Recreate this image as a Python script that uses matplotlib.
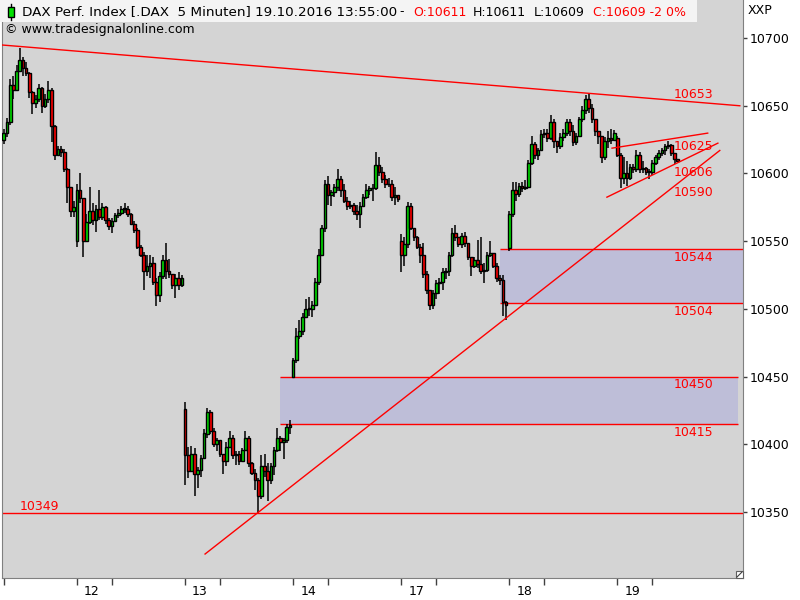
import matplotlib
matplotlib.use('Agg')
import matplotlib.pyplot as plt
from matplotlib.patches import Rectangle
from matplotlib.lines import Line2D
import numpy as np

# DAX 15-minute candles (open of a candle = previous close,
# except the first candle of each session)
day_names = ['11', '12', '13', '14', '17', '18', '19']
day_start = [-11, 23, 57, 91, 125, 159, 193]   # candle index of session start
day_open = [10625, 10550, 10426, 10450, 10550, 10545, 10626]

close_11 = [10630, 10638, 10665, 10662, 10676, 10684, 10678, 10674, 10660, 10652, 10655, 10663,
            10650, 10655, 10662, 10635, 10614, 10618, 10616, 10603, 10590, 10572, 10575]
high_11 = [10633, 10641, 10670, 10672, 10680, 10693, 10686, 10682, 10675, 10661, 10658, 10666,
           10664, 10659, 10668, 10663, 10636, 10620, 10620, 10618, 10604, 10590, 10580]
low_11 = [10622, 10627, 10636, 10655, 10662, 10676, 10672, 10672, 10656, 10644, 10648, 10653,
          10645, 10648, 10652, 10623, 10610, 10613, 10612, 10601, 10578, 10568, 10568]

close_12 = [10588, 10582, 10550, 10564, 10572, 10566, 10574, 10568, 10575, 10566, 10561, 10565,
            10569, 10571, 10574, 10574, 10570, 10563, 10558, 10546, 10540, 10528, 10532, 10534,
            10520, 10510, 10524, 10536, 10528, 10526, 10518, 10523, 10518, 10523]
high_12 = [10592, 10600, 10582, 10570, 10590, 10578, 10577, 10588, 10578, 10576, 10567, 10567,
           10571, 10574, 10576, 10578, 10576, 10571, 10565, 10560, 10547, 10542, 10540, 10540,
           10538, 10523, 10527, 10540, 10549, 10537, 10526, 10526, 10527, 10525]
low_12 = [10546, 10578, 10538, 10555, 10563, 10562, 10557, 10566, 10566, 10563, 10558, 10556,
          10565, 10567, 10569, 10571, 10568, 10562, 10556, 10544, 10538, 10514, 10524, 10523,
          10518, 10502, 10505, 10522, 10522, 10523, 10515, 10508, 10514, 10516]

close_13 = [10392, 10380, 10393, 10378, 10381, 10390, 10408, 10424, 10410, 10400, 10403, 10393,
            10388, 10398, 10405, 10392, 10393, 10388, 10396, 10405, 10386, 10379, 10374, 10362,
            10384, 10380, 10374, 10384, 10396, 10405, 10402, 10403, 10413, 10414]
high_13 = [10431, 10398, 10399, 10397, 10383, 10392, 10411, 10427, 10425, 10412, 10405, 10400,
           10393, 10402, 10410, 10407, 10395, 10395, 10397, 10410, 10406, 10387, 10382, 10375,
           10392, 10393, 10386, 10386, 10398, 10412, 10406, 10405, 10415, 10418]
low_13 = [10370, 10375, 10380, 10362, 10368, 10376, 10389, 10405, 10408, 10398, 10395, 10391,
          10378, 10384, 10397, 10389, 10385, 10385, 10387, 10395, 10383, 10377, 10366, 10349,
          10360, 10376, 10358, 10371, 10377, 10394, 10395, 10389, 10401, 10408]

close_14 = [10462, 10480, 10484, 10494, 10500, 10500, 10503, 10520, 10540, 10560, 10592, 10584,
            10586, 10590, 10596, 10588, 10580, 10576, 10577, 10572, 10570, 10576, 10583, 10588,
            10589, 10589, 10606, 10601, 10596, 10592, 10592, 10583, 10584, 10581]
high_14 = [10464, 10486, 10492, 10497, 10507, 10509, 10506, 10523, 10544, 10562, 10595, 10598,
           10588, 10592, 10603, 10598, 10592, 10583, 10580, 10578, 10577, 10579, 10585, 10592,
           10591, 10592, 10616, 10612, 10605, 10599, 10597, 10595, 10590, 10584]
low_14 = [10449, 10460, 10478, 10481, 10494, 10495, 10494, 10502, 10518, 10540, 10557, 10577,
          10576, 10583, 10587, 10583, 10578, 10573, 10574, 10569, 10566, 10560, 10575, 10581,
          10584, 10580, 10588, 10598, 10593, 10589, 10590, 10580, 10577, 10579]

close_17 = [10540, 10548, 10576, 10560, 10553, 10546, 10540, 10526, 10514, 10503, 10512, 10519,
            10520, 10527, 10528, 10540, 10556, 10553, 10548, 10554, 10549, 10538, 10532, 10536,
            10533, 10528, 10529, 10540, 10541, 10532, 10523, 10521, 10505, 10503]
high_17 = [10555, 10553, 10579, 10578, 10560, 10554, 10548, 10549, 10528, 10514, 10514, 10521,
           10523, 10530, 10530, 10542, 10560, 10562, 10553, 10556, 10557, 10549, 10538, 10538,
           10551, 10553, 10534, 10542, 10550, 10541, 10534, 10525, 10525, 10506]
low_17 = [10527, 10532, 10545, 10558, 10550, 10544, 10534, 10523, 10511, 10499, 10500, 10507,
          10511, 10514, 10522, 10524, 10538, 10550, 10546, 10545, 10546, 10536, 10524, 10530,
          10530, 10526, 10519, 10527, 10538, 10530, 10520, 10518, 10495, 10492]

close_18 = [10570, 10588, 10585, 10591, 10589, 10590, 10608, 10622, 10614, 10617, 10629, 10630,
            10626, 10638, 10624, 10620, 10627, 10630, 10638, 10631, 10623, 10628, 10640, 10647,
            10655, 10648, 10640, 10631, 10628, 10612, 10624, 10626, 10625, 10630]
high_18 = [10572, 10594, 10594, 10593, 10594, 10595, 10610, 10628, 10623, 10619, 10632, 10633,
           10633, 10643, 10640, 10624, 10630, 10633, 10640, 10640, 10636, 10630, 10642, 10650,
           10658, 10659, 10651, 10639, 10630, 10628, 10627, 10631, 10633, 10632]
low_18 = [10543, 10568, 10580, 10583, 10586, 10588, 10589, 10606, 10611, 10610, 10617, 10626,
          10623, 10625, 10619, 10615, 10618, 10624, 10628, 10628, 10620, 10621, 10627, 10638,
          10644, 10645, 10637, 10628, 10622, 10608, 10610, 10619, 10622, 10624]

close_19 = [10614, 10597, 10600, 10597, 10605, 10603, 10614, 10603, 10604, 10601, 10601, 10608,
            10612, 10615, 10617, 10620, 10621, 10615, 10611, 10609]
high_19 = [10628, 10615, 10612, 10609, 10607, 10607, 10617, 10616, 10609, 10605, 10603, 10610,
           10614, 10617, 10619, 10622, 10624, 10622, 10615, 10611]
low_19 = [10612, 10589, 10592, 10591, 10595, 10600, 10601, 10600, 10600, 10599, 10596, 10599,
          10606, 10610, 10613, 10614, 10618, 10613, 10607, 10609]

closes = [close_11, close_12, close_13, close_14, close_17, close_18, close_19]
highs = [high_11, high_12, high_13, high_14, high_17, high_18, high_19]
lows = [low_11, low_12, low_13, low_14, low_17, low_18, low_19]

# drawn objects: trend lines (index, price) pairs, zones, levels
trend_lines = [((-1.2, 10695), (231.5, 10650)),
               ((63.3, 10319), (225.2, 10617)),
               ((189.7, 10582.5), (224.6, 10622.4)),
               ((191.3, 10618.7), (221.4, 10629.8))]
zones = [(156.0, 232.5, 10504, 10544), (86.9, 230.9, 10415, 10450)]
support = 10349
level_labels = [('10653', 210.8, 10658.5), ('10625', 210.8, 10620), ('10606', 210.8, 10601),
                ('10590', 210.8, 10586), ('10544', 210.8, 10538), ('10504', 210.8, 10498),
                ('10450', 210.8, 10444), ('10415', 210.8, 10409), ('10349', 5.1, 10354)]

GREEN = '#00E000'
RED = '#FF0000'
BG = '#D4D4D4'

o, c, h, l = [], [], [], []
for d in range(len(closes)):
    o += [day_open[d]] + closes[d][:-1]
    c += closes[d]
    h += highs[d]
    l += lows[d]
o, c, h, l = map(np.array, (o, c, h, l))
x = np.arange(len(c))

fig = plt.figure(figsize=(8, 6), dpi=100)
ax = fig.add_axes([2 / 800, 22 / 600, 741 / 800, 578 / 600])
ax.set_facecolor(BG)
ax.set_xlim(-0.57, 232.5)
ax.set_ylim(10301.3, 10728.1)

# zones
for x0, x1, y0, y1 in zones:
    ax.add_patch(Rectangle((x0, y0), x1 - x0, y1 - y0, facecolor='#BEBED8',
                           edgecolor='none', zorder=1))
    ax.hlines([y0, y1], x0, x1, color=RED, lw=1, zorder=2)
ax.axhline(support, color=RED, lw=1, zorder=2)

# candles
top = np.maximum(o, c)
bot = np.minimum(o, c)
ax.vlines(x, np.minimum(l, bot), np.maximum(h, top), color='black', lw=1.1, zorder=3)
cols = np.where(c >= o, GREEN, RED)
ax.bar(x, np.maximum(top - bot, 0.6), bottom=bot, width=0.85, color=cols,
       edgecolor='black', linewidth=1.0, zorder=4)

for (xa, ya), (xb, yb) in trend_lines:
    ax.plot([xa, xb], [ya, yb], color=RED, lw=1, zorder=5)

for txt, tx, ty in level_labels:
    ax.text(tx, ty, txt, color=RED, fontsize=9, ha='left', va='center', zorder=6)

# axes styling
for s in ['left', 'bottom', 'right']:
    ax.spines[s].set_color('#808080')
ax.spines['top'].set_visible(False)
ax.yaxis.tick_right()
ax.set_yticks(np.arange(10350, 10701, 50))
ax.tick_params(axis='y', length=3, width=1, color='#404040', pad=2, labelsize=9)

ticks = [t for s in day_start for t in (s, s + 11) if -0.57 <= t <= 232.5]
ax.set_xticks(ticks)
ax.set_xticklabels([''] * len(ticks))
ax.set_xticks([s + 4.7 for s in day_start[1:]], minor=True)
ax.set_xticklabels(day_names[1:], minor=True)
ax.tick_params(axis='x', which='major', length=5, width=1, color='#404040')
ax.tick_params(axis='x', which='minor', length=0, pad=5, labelsize=9)


def fx(px):
    return px / 800


def fy(py):
    return 1 - py / 600


# header
fig.add_artist(Rectangle((0, fy(22)), fx(697), 22 / 600, transform=fig.transFigure,
                         facecolor='#F4F4F4', edgecolor='none', zorder=2))
fig.add_artist(Line2D([fx(11), fx(11)], [fy(4), fy(20)], color='black', lw=1, zorder=3))
fig.add_artist(Rectangle((fx(8), fy(17)), 6 / 800, 10 / 600, transform=fig.transFigure,
                         facecolor=GREEN, edgecolor='black', lw=1, zorder=4))
header = [(22, 'DAX Perf. Index [.DAX  5 Minuten] 19.10.2016 13:55:00', 'black', 9.7),
          (399, '-', 'black', 9), (413, 'O:10611', RED, 9), (473, 'H:10611', 'black', 9),
          (534, 'L:10609', 'black', 9), (593, 'C:10609 -2 0%', RED, 9)]
for px, txt, col, fs in header:
    fig.text(fx(px), fy(12), txt, color=col, fontsize=fs, ha='left', va='center', zorder=5)
fig.text(fx(5), fy(30), '\u00a9 www.tradesignalonline.com', fontsize=9, ha='left',
         va='center', zorder=5)
fig.text(fx(748), fy(10), 'XXP', fontsize=9, ha='left', va='center')

# small resize box in the corner
fig.add_artist(Rectangle((fx(736), fy(578)), 7 / 800, 7 / 600, transform=fig.transFigure,
                         facecolor='white', edgecolor='#606060', lw=0.8, zorder=3))
fig.add_artist(Line2D([fx(737), fx(742)], [fy(577), fy(572)], color='#404040', lw=0.8, zorder=4))

fig.savefig('out.png', dpi=100)
